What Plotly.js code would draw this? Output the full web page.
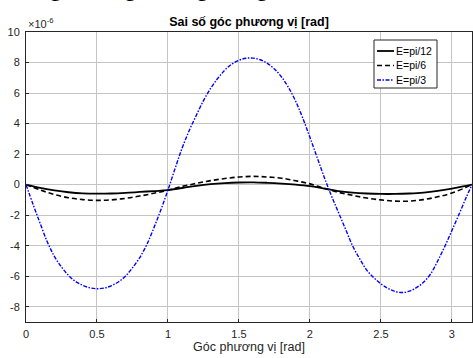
<!DOCTYPE html>
<html>
<head>
<meta charset="utf-8">
<script src="https://cdn.plot.ly/plotly-3.0.1.min.js"></script>
<style>html,body{margin:0;padding:0;background:#fff;overflow:hidden}#chart{width:473px;height:358px}</style>
</head>
<body>
<div id="chart"></div>
<script>
// Azimuth angle [rad] sample positions
const xBlue = [0,0.05,0.1,0.15,0.2,0.25,0.3,0.35,0.4,0.45,0.5,0.55,0.6,0.65,0.7,0.75,0.8,0.85,0.9,0.95,
  1.0,1.05,1.1,1.15,1.2,1.25,1.3,1.35,1.4,1.45,1.5,1.55,1.6,1.65,1.7,1.75,1.8,1.85,1.9,1.95,
  2.0,2.05,2.1,2.15,2.2,2.25,2.3,2.35,2.4,2.45,2.5,2.55,2.6,2.65,2.7,2.75,2.8,2.85,2.9,2.95,
  3.0,3.05,3.1,3.1416];
// E = pi/3  (x 1e-6 rad)
const yPi3 = [0,-1.3,-2.55,-3.75,-4.7,-5.4,-5.95,-6.35,-6.6,-6.76,-6.82,-6.78,-6.63,-6.38,-6.0,-5.45,-4.8,-3.95,-2.85,-1.65,
  -0.35,1.05,2.4,3.55,4.55,5.5,6.3,6.95,7.5,7.9,8.15,8.28,8.29,8.18,7.95,7.58,7.05,6.35,5.45,4.35,
  3.1,1.8,0.5,-0.7,-1.8,-2.9,-4.0,-4.85,-5.6,-6.1,-6.5,-6.8,-7.0,-7.07,-6.98,-6.75,-6.4,-5.85,-5.0,-4.05,
  -3.0,-1.95,-0.85,0];

const xBlack = [0,0.1,0.2,0.3,0.4,0.5,0.6,0.7,0.8,0.9,1.0,1.1,1.2,1.3,1.4,1.5,1.6,1.7,1.8,1.9,
  2.0,2.1,2.2,2.3,2.4,2.5,2.6,2.7,2.8,2.9,3.0,3.1,3.1416];
// E = pi/12
const yPi12 = [0,-0.22,-0.38,-0.5,-0.57,-0.59,-0.58,-0.54,-0.48,-0.42,-0.36,-0.22,-0.08,0.03,0.1,0.14,0.15,0.12,0.07,0.0,
  -0.1,-0.26,-0.42,-0.52,-0.58,-0.61,-0.61,-0.58,-0.52,-0.41,-0.26,-0.08,0];
// E = pi/6
const yPi6 = [0,-0.35,-0.65,-0.86,-0.98,-1.03,-1.0,-0.9,-0.75,-0.57,-0.37,-0.12,0.08,0.26,0.4,0.5,0.54,0.5,0.42,0.25,
  0.05,-0.24,-0.5,-0.7,-0.88,-1.0,-1.08,-1.08,-0.98,-0.8,-0.55,-0.18,0];

const seriesNames = ['E=pi/12','E=pi/6','E=pi/3'];
const xTickVals = [0,0.5,1,1.5,2,2.5,3];
const xTickText = ['0','0.5','1','1.5','2','2.5','3'];
const yTickVals = [-8,-6,-4,-2,0,2,4,6,8,10];
const yTickText = ['-8','-6','-4','-2','0','2','4','6','8','10'];

const FONT = 'Liberation Sans, Arial, Helvetica, sans-serif';
const AX = '#262626';

const styles = [
  {color: '#000000', width: 1.8, shape: 'spline'},
  {color: '#000000', width: 1.6, dash: '5px,3px', shape: 'spline'},
  {color: '#0000ff', width: 1.4, dash: '4px,1.5px,1.5px,1.5px', shape: 'spline'}
];
const xs = [xBlack, xBlack, xBlue];
const ys = [yPi12, yPi6, yPi3];
const traces = ys.map((y, i) => ({x: xs[i], y: y, name: seriesNames[i], mode: 'lines', line: styles[i], showlegend: false}));

// compact MATLAB-style legend box (paper coordinates)
const plotL = 26, plotW = 446, plotB = 322, plotH = 290;
const px = v => (v - plotL) / plotW, py = v => (plotB - v) / plotH;
const legShapes = [{type: 'rect', xref: 'paper', yref: 'paper', x0: px(374), x1: px(437), y0: py(88), y1: py(40),
  line: {color: AX, width: 1}, fillcolor: '#ffffff', layer: 'above'}];
const legAnn = [];
const rowsY = [51, 65.5, 80];
seriesNames.forEach((n, i) => {
  legShapes.push({type: 'line', xref: 'paper', yref: 'paper', x0: px(377), x1: px(394), y0: py(rowsY[i]), y1: py(rowsY[i]),
    line: {color: styles[i].color, width: styles[i].width, dash: styles[i].dash || 'solid'}, layer: 'above'});
  legAnn.push({text: n, xref: 'paper', yref: 'paper', x: px(394), y: py(rowsY[i]), xanchor: 'left', yanchor: 'middle',
    showarrow: false, font: {family: FONT, size: 10.5, color: '#000'}});
});

const axisCommon = {
  showgrid: true, gridcolor: '#c4c4c4', gridwidth: 1,
  showline: true, linecolor: AX, linewidth: 1, mirror: true,
  ticks: 'inside', ticklen: 3, tickcolor: AX,
  tickfont: {family: FONT, size: 11, color: AX},
  zeroline: false, tickmode: 'array'
};

const layout = {
  width: 473, height: 358,
  margin: {l: 26, r: 1, t: 32, b: 36},
  paper_bgcolor: '#ffffff', plot_bgcolor: '#ffffff',
  showlegend: false,
  title: {text: '<b>Sai số góc phương vị [rad]</b>', font: {family: FONT, size: 12.5, color: '#000'},
          x: 0.5, xref: 'paper', xanchor: 'center', y: 1 - 22/358, yref: 'container', yanchor: 'middle'},
  xaxis: Object.assign({}, axisCommon, {
    range: [0, Math.PI], tickvals: xTickVals, ticktext: xTickText, ticklabelstandoff: 2,
    title: {text: 'Góc phương vị [rad]', font: {family: FONT, size: 12.5, color: AX}, standoff: 1}
  }),
  yaxis: Object.assign({}, axisCommon, {
    range: [-9, 10], tickvals: yTickVals, ticktext: yTickText, ticklabelstandoff: 3
  }),
  shapes: legShapes,
  annotations: [
    {text: '×10<sup>-6</sup>', xref: 'paper', yref: 'paper', x: 0, y: 1, xanchor: 'left', yanchor: 'bottom',
     showarrow: false, font: {family: FONT, size: 11, color: AX}},
    {text: 'hưởng sai số góc bằng lượng sai vào', xref: 'paper', yref: 'paper', x: -0.058, y: 1.10,
     xanchor: 'left', yanchor: 'bottom', showarrow: false,
     font: {family: 'Liberation Serif, DejaVu Serif, serif', size: 23, color: '#000'}}
  ].concat(legAnn)
};

Plotly.newPlot('chart', traces, layout, {displayModeBar: false, staticPlot: true});
</script>
</body>
</html>
